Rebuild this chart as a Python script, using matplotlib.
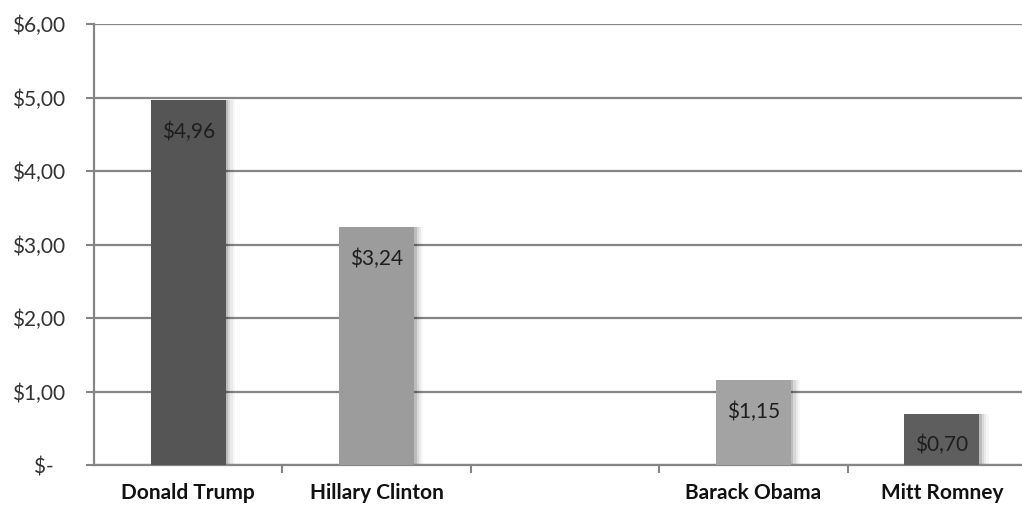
import numpy as np
import matplotlib.pyplot as plt
from matplotlib import rcParams
from matplotlib.ticker import FixedLocator, NullFormatter

rcParams['font.family'] = ['Lato', 'DejaVu Sans']

candidates = ["Donald Trump", "Hillary Clinton", "", "Barack Obama", "Mitt Romney"]
values = [4.96, 3.24, np.nan, 1.15, 0.70]
bar_colors = ["#555555", "#9c9c9c", "#ffffff", "#a3a3a3", "#5e5e5e"]
labels = ["$4,96", "$3,24", "", "$1,15", "$0,70"]
ytick_vals = [0, 1, 2, 3, 4, 5, 6]
ytick_labels = ["$-  ", "$1,00", "$2,00", "$3,00", "$4,00", "$5,00", "$6,00"]

fig = plt.figure(figsize=(10.22, 5.08), dpi=100)
ax = fig.add_axes([94 / 1022, 43 / 508, 942 / 1022, 441 / 508])

x = np.arange(len(candidates))
w = 0.40

# soft shadow on the right of each bar
for k, a in enumerate([0.12, 0.08, 0.05, 0.03]):
    off = 0.012 * (k + 1)
    ax.bar(x + off, values, width=w, color="#000000", alpha=a, zorder=2, linewidth=0)

ax.bar(x, values, width=w, color=bar_colors, zorder=3, linewidth=0)

for xi, v, lab in zip(x, values, labels):
    if lab:
        ax.text(xi, v - 0.43, lab, ha="center", va="center", fontsize=15,
                color="#1e1e1e", zorder=4)

ax.set_xlim(-0.5, len(candidates) - 0.5)
ax.set_ylim(0, 6)
ax.set_yticks(ytick_vals)
ax.set_yticklabels(ytick_labels, fontsize=15, color="#333333")
ax.yaxis.grid(True, color="#858585", linewidth=1.6, zorder=1)
ax.set_axisbelow(True)

ax.set_xticks(x)
ax.set_xticklabels(candidates, fontsize=15, fontweight="bold", color="#111111")
ax.tick_params(axis="x", which="major", length=0, pad=13)
ax.xaxis.set_minor_locator(FixedLocator(np.arange(0.5, len(candidates) - 0.5, 1)))
ax.xaxis.set_minor_formatter(NullFormatter())
ax.tick_params(axis="x", which="minor", length=6, width=1.5, color="#858585")
ax.tick_params(axis="y", length=6, width=1.5, color="#858585", pad=15)

for s in ["top", "right"]:
    ax.spines[s].set_visible(False)
for s in ["left", "bottom"]:
    ax.spines[s].set_color("#858585")
    ax.spines[s].set_linewidth(1.6)

fig.savefig("out.png", dpi=100, facecolor="white")
